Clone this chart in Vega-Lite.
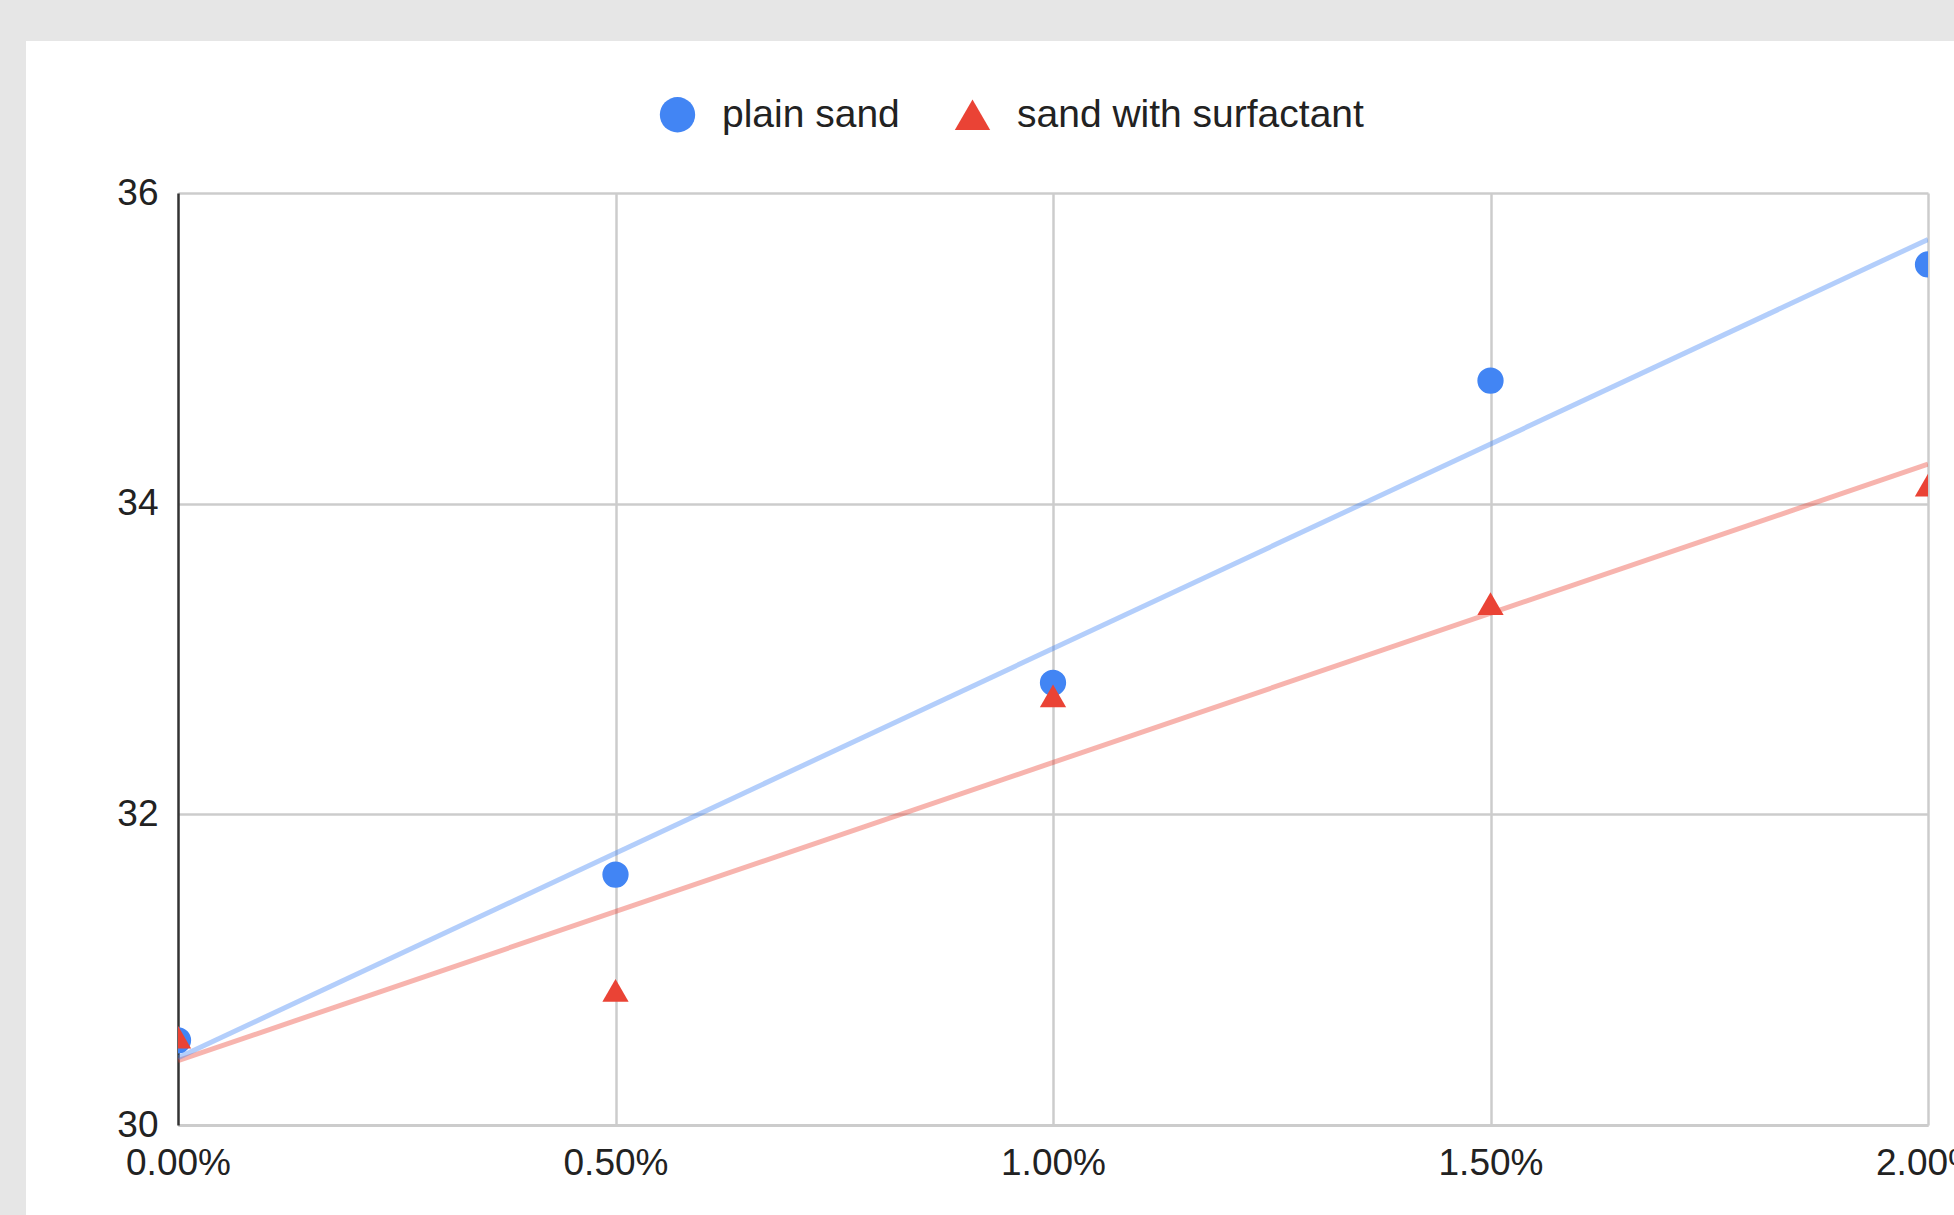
{
  "$schema": "https://vega.github.io/schema/vega-lite/v6.json",
  "width": 1750,
  "height": 932,
  "autosize": {"type": "none"},
  "padding": {"left": 178, "top": 193, "right": 26, "bottom": 90},
  "background": "#e6e6e6",
  "config": {
    "view": {"fill": "white", "stroke": "white", "strokeWidth": 304},
    "font": "Liberation Sans",
    "axis": {
      "labelFont": "Liberation Sans",
      "labelFontSize": 37,
      "labelColor": "#222222",
      "ticks": false,
      "title": null,
      "gridColor": "#cccccc",
      "gridWidth": 2.5,
      "gridOpacity": 1,
      "labelPadding": 20
    }
  },
  "data": {
    "values": [
      {"concentration": 0.0, "value": 30.545, "series": "plain sand"},
      {"concentration": 0.005, "value": 31.612, "series": "plain sand"},
      {"concentration": 0.01, "value": 32.847, "series": "plain sand"},
      {"concentration": 0.015, "value": 34.792, "series": "plain sand"},
      {"concentration": 0.02, "value": 35.54, "series": "plain sand"},
      {"concentration": 0.0, "value": 30.565, "series": "sand with surfactant"},
      {"concentration": 0.005, "value": 30.866, "series": "sand with surfactant"},
      {"concentration": 0.01, "value": 32.763, "series": "sand with surfactant"},
      {"concentration": 0.015, "value": 33.357, "series": "sand with surfactant"},
      {"concentration": 0.02, "value": 34.12, "series": "sand with surfactant"}
    ]
  },
  "encoding": {
    "x": {
      "field": "concentration",
      "type": "quantitative",
      "scale": {"domain": [0, 0.02], "nice": false, "zero": false},
      "axis": {
        "values": [0, 0.005, 0.01, 0.015, 0.02],
        "format": ".2%",
        "labelFlush": false,
        "domainColor": "#cccccc",
        "domainWidth": 3,
        "gridColor": {"condition": {"test": "datum.value === 0", "value": null}, "value": "#cccccc"}
      }
    },
    "y": {
      "field": "value",
      "type": "quantitative",
      "scale": {"domain": [30, 36], "nice": false, "zero": false},
      "axis": {
        "values": [30, 32, 34, 36],
        "domainColor": "#333333",
        "domainWidth": 2.5
      }
    }
  },
  "layer": [
    {
      "transform": [
        {"filter": "datum.series === 'sand with surfactant'"},
        {"regression": "value", "on": "concentration"}
      ],
      "mark": {"type": "line", "color": "#ea4335", "opacity": 0.4, "strokeWidth": 5, "clip": true}
    },
    {
      "transform": [
        {"filter": "datum.series === 'plain sand'"},
        {"regression": "value", "on": "concentration"}
      ],
      "mark": {"type": "line", "color": "#4285f4", "opacity": 0.4, "strokeWidth": 5, "clip": true}
    },
    {
      "mark": {"type": "point", "filled": true, "opacity": 1, "strokeWidth": 0, "size": 690, "clip": true},
      "encoding": {
        "color": {
          "field": "series",
          "type": "nominal",
          "scale": {"domain": ["plain sand", "sand with surfactant"], "range": ["#4285f4", "#ea4335"]},
          "legend": {
            "title": null,
            "orient": "none",
            "legendX": 480,
            "legendY": -98,
            "direction": "horizontal",
            "symbolSize": 1250,
            "labelFont": "Liberation Sans",
            "labelFontSize": 39,
            "labelColor": "#222222",
            "labelOffset": 25,
            "columnPadding": 53,
            "padding": 0,
            "symbolStrokeWidth": 0,
            "symbolOpacity": 1,
            "labelLimit": 1000
          }
        },
        "shape": {
          "field": "series",
          "type": "nominal",
          "scale": {"domain": ["plain sand", "sand with surfactant"], "range": ["circle", "triangle-up"]},
          "legend": {
            "title": null,
            "orient": "none",
            "legendX": 480,
            "legendY": -98,
            "direction": "horizontal",
            "symbolSize": 1250,
            "labelFont": "Liberation Sans",
            "labelFontSize": 39,
            "labelColor": "#222222",
            "labelOffset": 25,
            "columnPadding": 53,
            "padding": 0,
            "symbolStrokeWidth": 0,
            "symbolOpacity": 1,
            "labelLimit": 1000
          }
        }
      }
    }
  ]
}
